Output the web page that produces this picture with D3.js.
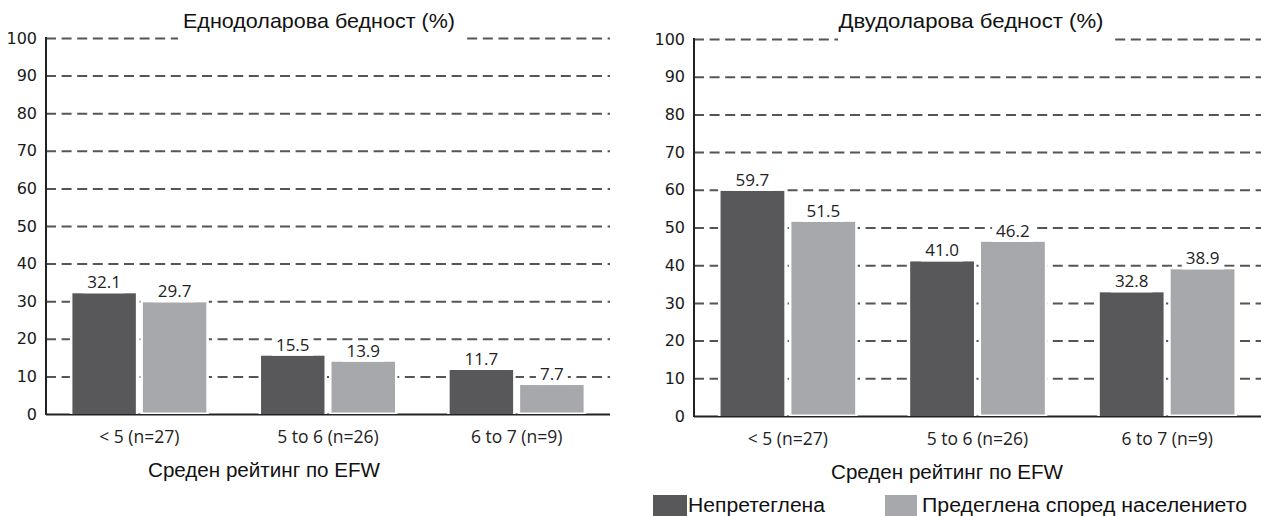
<!DOCTYPE html>
<html>
<head>
<meta charset="utf-8">
<script src="https://cdn.jsdelivr.net/npm/d3@7"></script>
<style>
  html, body { margin: 0; padding: 0; background: #fff; }
  svg { display: block; }
</style>
</head>
<body>
<svg id="chart" width="1261" height="516"></svg>
<script>
// ---- data ----
const categories = ["< 5 (n=27)", "5 to 6 (n=26)", "6 to 7 (n=9)"];
const seriesNames = ["Непретеглена", "Предеглена според населението"];
const oneDollarUnweighted = [32.1, 15.5, 11.7];
const oneDollarWeighted   = [29.7, 13.9, 7.7];
const twoDollarUnweighted = [59.7, 41.0, 32.8];
const twoDollarWeighted   = [51.5, 46.2, 38.9];
const yTicks = [0, 10, 20, 30, 40, 50, 60, 70, 80, 90, 100];
const panelTitles = ["Еднодоларова бедност (%)", "Двудоларова бедност (%)"];
const xAxisTitle = "Среден рейтинг по EFW";

const colors = ["#58585a", "#a7a8ab"];
const svg = d3.select("#chart");

const panels = [
  { title: panelTitles[0], values: [oneDollarUnweighted, oneDollarWeighted],
    x0: 46, x1: 610, yb: 414, yt: 38,
    titleX: 319, titleY: 28, titleLen: 272, titleBg: [178, 462],
    axTitleX: 148, axTitleY: 477, axTitleLen: 232 },
  { title: panelTitles[1], values: [twoDollarUnweighted, twoDollarWeighted],
    x0: 694, x1: 1261, yb: 416, yt: 39,
    titleX: 971, titleY: 28, titleLen: 265, titleBg: [838, 1110],
    axTitleX: 831, axTitleY: 479, axTitleLen: 232 }
];

panels.forEach(p => {
  const g = svg.append("g");
  const y = d3.scaleLinear().domain([0, 100]).range([p.yb, p.yt]);
  const xBand = d3.scaleBand().domain(categories).range([p.x0, p.x1])
    .paddingInner(0.29).paddingOuter(0.14);
  const xSer = d3.scaleBand().domain(seriesNames).range([0, xBand.bandwidth()])
    .paddingInner(0.1);

  // gridlines + tick labels
  const axis = d3.axisLeft(y).tickValues(yTicks)
    .tickSize(-(p.x1 - p.x0)).tickPadding(9);
  const ag = g.append("g").attr("transform", `translate(${p.x0},0)`).call(axis);
  ag.select(".domain").remove();
  ag.selectAll(".tick line")
    .attr("stroke", d => d === 0 ? "#222" : "#555")
    .attr("stroke-width", 2)
    .attr("stroke-dasharray", d => d === 0 ? null : "10,5.6");
  ag.selectAll(".tick text")
    .attr("font-family", "'DejaVu Sans', Verdana, sans-serif")
    .attr("font-size", 16)
    .attr("fill", "#1a1a1a");

  // title with white background
  g.append("rect").attr("x", p.titleBg[0]).attr("y", 6)
    .attr("width", p.titleBg[1] - p.titleBg[0]).attr("height", 38)
    .attr("fill", "#fff");
  g.append("text").attr("x", p.titleX).attr("y", p.titleY)
    .attr("text-anchor", "middle")
    .attr("font-family", "'Liberation Sans', Arial, sans-serif")
    .attr("font-size", 21).attr("fill", "#111")
    .attr("textLength", p.titleLen).attr("lengthAdjust", "spacingAndGlyphs")
    .text(p.title);

  // bars
  const data = [];
  categories.forEach((c, i) => {
    seriesNames.forEach((s, j) => data.push({ c, s, j, v: p.values[j][i] }));
  });
  const bx = d => xBand(d.c) + xSer(d.s);
  g.selectAll(".pad").data(data).join("rect")
    .attr("x", d => bx(d) - 2.5)
    .attr("y", d => y(d.v) - 2.5)
    .attr("width", xSer.bandwidth() + 5)
    .attr("height", d => y(0) - y(d.v) + 2.5)
    .attr("fill", "#fff");
  g.selectAll(".bar").data(data).join("rect")
    .attr("x", bx)
    .attr("y", d => y(d.v))
    .attr("width", xSer.bandwidth())
    .attr("height", d => y(0) - y(d.v) - (d.j === 1 ? 1.5 : 0))
    .attr("fill", d => colors[d.j]);

  // value labels with white background
  const bgG = g.append("g");
  const vals = g.selectAll(".val").data(data).join("text")
    .attr("x", d => bx(d) + xSer.bandwidth() / 2)
    .attr("y", d => y(d.v) - 5)
    .attr("text-anchor", "middle")
    .attr("font-family", "'Open Sans', 'Noto Sans', sans-serif")
    .attr("font-size", 17).attr("fill", "#222")
    .text(d => d3.format(".1f")(d.v));
  vals.each(function() {
    const b = this.getBBox();
    bgG.append("rect").attr("x", b.x - 4).attr("y", b.y + 2)
      .attr("width", b.width + 8).attr("height", b.height - 2)
      .attr("fill", "#fff");
  });

  // y axis line
  g.append("line").attr("x1", p.x0).attr("x2", p.x0)
    .attr("y1", y(100) - 1).attr("y2", y(0) + 1)
    .attr("stroke", "#222").attr("stroke-width", 2);

  // category labels
  g.selectAll(".cat").data(categories).join("text")
    .attr("x", d => xBand(d) + xBand.bandwidth() / 2)
    .attr("y", p.yb + 29)
    .attr("text-anchor", "middle")
    .attr("font-family", "'Open Sans', 'Noto Sans', sans-serif")
    .attr("font-size", 17.5).attr("fill", "#222")
    .text(d => d);

  // x axis title
  g.append("text").attr("x", p.axTitleX).attr("y", p.axTitleY)
    .attr("font-family", "'Liberation Sans', Arial, sans-serif")
    .attr("font-size", 19.5).attr("fill", "#111")
    .attr("textLength", p.axTitleLen).attr("lengthAdjust", "spacingAndGlyphs")
    .text(xAxisTitle);
});

// legend
const legendItems = [
  { name: seriesNames[0], sx: 653, sw: 34, tx: 688, tl: 137 },
  { name: seriesNames[1], sx: 885, sw: 32, tx: 922, tl: 325 }
];
const lg = svg.append("g");
lg.selectAll("rect").data(legendItems).join("rect")
  .attr("x", d => d.sx).attr("y", 495).attr("width", d => d.sw).attr("height", 30)
  .attr("fill", (d, i) => colors[i]);
lg.selectAll("text").data(legendItems).join("text")
  .attr("x", d => d.tx).attr("y", 512)
  .attr("font-family", "'Liberation Sans', Arial, sans-serif")
  .attr("font-size", 19.5).attr("fill", "#111")
  .attr("textLength", d => d.tl).attr("lengthAdjust", "spacingAndGlyphs")
  .text(d => d.name);
</script>
</body>
</html>
